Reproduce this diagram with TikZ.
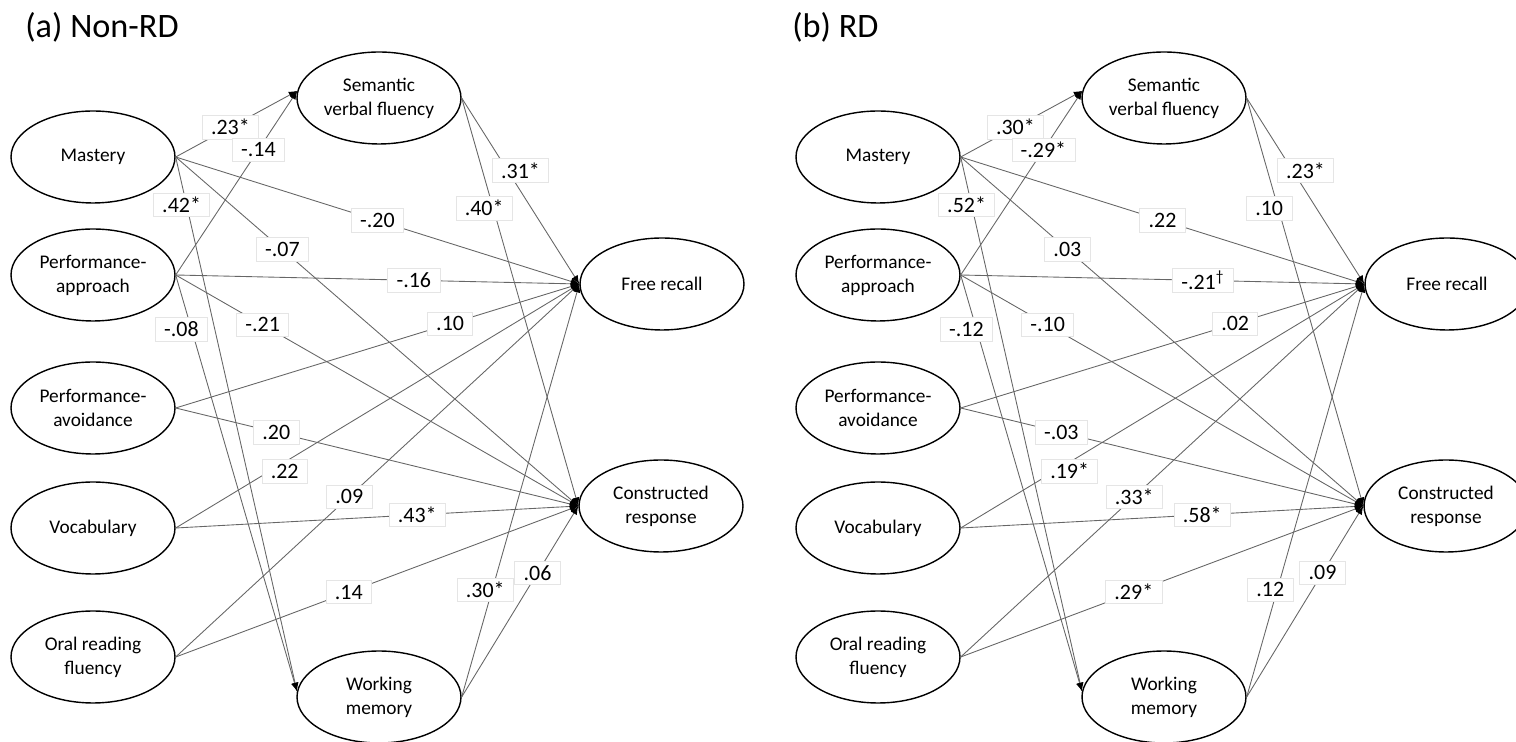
\documentclass[tikz,border=0pt]{standalone}
\usepackage{fontspec}
\setmainfont{Carlito}
\usepackage{tikz}
\usetikzlibrary{shapes.geometric, arrows.meta}
\tikzset{
	var/.style={draw, ellipse, line width=0.8pt, minimum width=3.28cm, minimum height=1.84cm, inner sep=0pt, align=center, font=\fontsize{11}{13.7}\selectfont},
	link/.style={draw=black!60, line width=0.5pt, -{Latex[length=1.7mm, width=1.4mm, color=black]}},
	coef/.style={fill=white, draw=black!10, line width=0.4pt, inner xsep=5pt, inner ysep=0pt, minimum height=0.47cm, font=\fontsize{12.5}{13}\selectfont},
	paneltitle/.style={anchor=west, inner sep=0pt, font=\fontsize{19.5}{22}\selectfont}
}

\begin{document}
\begin{tikzpicture}[x=0.02cm, y=-0.02cm]
	\useasboundingbox (0,0) rectangle (1516,742);

	% (a) Non-RD
	\node[paneltitle] (atitle) at (25,27) {(a) Non-RD};
	\node[var] (amast) at (93,157) {Mastery};
	\node[var] (aapp) at (93,275) {Performance-\\approach};
	\node[var] (aavoid) at (93,408) {Performance-\\avoidance};
	\node[var] (avocab) at (93,528) {Vocabulary};
	\node[var] (aoral) at (93,657) {Oral reading\\fluency};
	\node[var] (asvf) at (379,98) {Semantic\\verbal fluency};
	\node[var] (awm) at (379,697) {Working\\memory};
	\node[var] (afr) at (662,284) {Free recall};
	\node[var] (acr) at (661,506) {Constructed\\response};

	% Paths (a)
	\draw[link] (amast.east) -- (asvf.175) node[coef, pos=.45] {.23*};
	\draw[link] (aapp.east) -- (asvf.175) node[coef, pos=.68] {-.14};
	\draw[link] (amast.east) -- (awm.176) node[coef, pos=.09, xshift=-0.1cm] {.42*};
	\draw[link] (aapp.east) -- (awm.176) node[coef, pos=.13, xshift=-0.2cm] {-.08};
	\draw[link] (amast.east) -- (afr.west) node[coef, pos=.5] {-.20};
	\draw[link] (amast.east) -- (acr.west) node[coef, pos=.265] {-.07};
	\draw[link] (aapp.east) -- (afr.west) node[coef, pos=.59] {-.16};
	\draw[link] (aapp.east) -- (acr.west) node[coef, pos=.216] {-.21};
	\draw[link] (aavoid.east) -- (afr.west) node[coef, pos=.68] {.10};
	\draw[link] (aavoid.east) -- (acr.west) node[coef, pos=.25] {.20};
	\draw[link] (avocab.east) -- (afr.west) node[coef, pos=.27, yshift=-0.18cm] {.22};
	\draw[link] (avocab.east) -- (acr.west) node[coef, pos=.6] {.43*};
	\draw[link] (aoral.east) -- (afr.west) node[coef, pos=.43] {.09};
	\draw[link] (aoral.east) -- (acr.west) node[coef, pos=.43] {.14};
	\draw[link] (asvf.east) -- (afr.west) node[coef, pos=.39, xshift=0.26cm] {.31*};
	\draw[link] (asvf.east) -- (acr.west) node[coef, pos=.27, xshift=-0.18cm] {.40*};
	\draw[link] (awm.east) -- (afr.west) node[coef, pos=.26, xshift=-0.14cm] {.30*};
	\draw[link] (awm.east) -- (acr.west) node[coef, pos=.65] {.06};

	% (b) RD
	\node[paneltitle] (btitle) at (792,27) {(b) RD};
	\node[var] (bmast) at (878,157) {Mastery};
	\node[var] (bapp) at (878,275) {Performance-\\approach};
	\node[var] (bavoid) at (878,408) {Performance-\\avoidance};
	\node[var] (bvocab) at (878,528) {Vocabulary};
	\node[var] (boral) at (878,657) {Oral reading\\fluency};
	\node[var] (bsvf) at (1164,98) {Semantic\\verbal fluency};
	\node[var] (bwm) at (1164,697) {Working\\memory};
	\node[var] (bfr) at (1447,284) {Free recall};
	\node[var] (bcr) at (1446,506) {Constructed\\response};

	% Paths (b)
	\draw[link] (bmast.east) -- (bsvf.175) node[coef, pos=.45] {.30*};
	\draw[link] (bapp.east) -- (bsvf.175) node[coef, pos=.68] {-.29*};
	\draw[link] (bmast.east) -- (bwm.176) node[coef, pos=.09, xshift=-0.1cm] {.52*};
	\draw[link] (bapp.east) -- (bwm.176) node[coef, pos=.13, xshift=-0.2cm] {-.12};
	\draw[link] (bmast.east) -- (bfr.west) node[coef, pos=.5] {.22};
	\draw[link] (bmast.east) -- (bcr.west) node[coef, pos=.265] {.03};
	\draw[link] (bapp.east) -- (bfr.west) node[coef, pos=.6] {-.21\textsuperscript{\textdagger}};
	\draw[link] (bapp.east) -- (bcr.west) node[coef, pos=.216] {-.10};
	\draw[link] (bavoid.east) -- (bfr.west) node[coef, pos=.68] {.02};
	\draw[link] (bavoid.east) -- (bcr.west) node[coef, pos=.25] {-.03};
	\draw[link] (bvocab.east) -- (bfr.west) node[coef, pos=.27, yshift=-0.18cm] {.19*};
	\draw[link] (bvocab.east) -- (bcr.west) node[coef, pos=.6] {.58*};
	\draw[link] (boral.east) -- (bfr.west) node[coef, pos=.43] {.33*};
	\draw[link] (boral.east) -- (bcr.west) node[coef, pos=.43] {.29*};
	\draw[link] (bsvf.east) -- (bfr.west) node[coef, pos=.39, xshift=0.26cm] {.23*};
	\draw[link] (bsvf.east) -- (bcr.west) node[coef, pos=.27, xshift=-0.18cm] {.10};
	\draw[link] (bwm.east) -- (bfr.west) node[coef, pos=.26, xshift=-0.14cm] {.12};
	\draw[link] (bwm.east) -- (bcr.west) node[coef, pos=.65] {.09};
\end{tikzpicture}
\end{document}
